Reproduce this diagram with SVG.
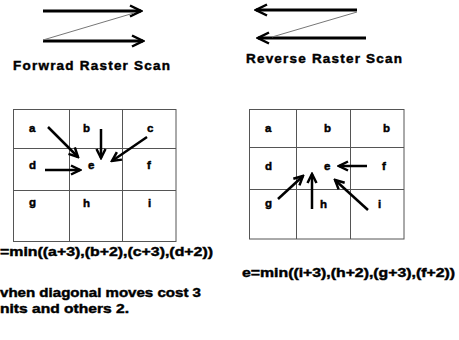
<svg xmlns="http://www.w3.org/2000/svg" width="459" height="340" viewBox="0 0 459 340">
<style>
text{font-family:"Liberation Sans",Arial,sans-serif;font-weight:bold;fill:#000;stroke:#000;stroke-width:0.45}
.t{font-size:13.5px}
.l{font-size:11.5px}
.f{font-size:13px}
.g{fill:none;stroke:#555;stroke-width:1}
.a{stroke:#000;stroke-width:2.5;fill:none}
.big{stroke:#000;stroke-width:3;fill:none}
.thin{stroke:#777;stroke-width:1;fill:none}
</style>
<defs>
<marker id="hb" viewBox="0 0 14 14" refX="12" refY="7" markerWidth="14" markerHeight="14" markerUnits="userSpaceOnUse" orient="auto">
<path d="M1,1.5 L12,7 L1,12.5" fill="none" stroke="#000" stroke-width="2.5"/>
</marker>
<marker id="hs" viewBox="0 0 12 12" refX="10" refY="6" markerWidth="12" markerHeight="12" markerUnits="userSpaceOnUse" orient="auto">
<path d="M1,1.5 L10,6 L1,10.5" fill="none" stroke="#000" stroke-width="2.5"/>
</marker>
</defs>
<rect width="459" height="340" fill="#fff"/>

<g id="forward-scan">
<line class="big" x1="43" y1="11" x2="141" y2="11" marker-end="url(#hb)"/>
<line class="big" x1="43" y1="41" x2="143" y2="41" marker-end="url(#hb)"/>
<line class="thin" x1="43" y1="40" x2="134" y2="13"/>
<text class="t" x="13" y="70" textLength="157" lengthAdjust="spacing">Forwrad Raster Scan</text>
</g>

<g id="reverse-scan">
<line class="big" x1="357" y1="10" x2="256" y2="10" marker-end="url(#hb)"/>
<line class="big" x1="366" y1="38" x2="258" y2="38" marker-end="url(#hb)"/>
<line class="thin" x1="357" y1="12" x2="272" y2="37"/>
<text class="t" x="246" y="63" textLength="156" lengthAdjust="spacing">Reverse Raster Scan</text>
</g>

<g id="forward-grid">
<rect class="g" x="13.5" y="109.5" width="162.5" height="132"/>
<line class="g" x1="69.5" y1="109.5" x2="69.5" y2="241.5"/>
<line class="g" x1="122.5" y1="109.5" x2="122.5" y2="241.5"/>
<line class="g" x1="13.5" y1="148.5" x2="176" y2="148.5"/>
<line class="g" x1="13.5" y1="190.5" x2="176" y2="190.5"/>
<text class="l" x="29" y="132">a</text>
<text class="l" x="83" y="132">b</text>
<text class="l" x="147" y="132">c</text>
<text class="l" x="29" y="169">d</text>
<text class="l" x="88" y="169">e</text>
<text class="l" x="147" y="169">f</text>
<text class="l" x="29" y="206">g</text>
<text class="l" x="83" y="207">h</text>
<text class="l" x="148" y="207">i</text>
</g>

<g id="reverse-grid">
<rect class="g" x="249.5" y="109.5" width="154.5" height="129.5"/>
<line class="g" x1="296.5" y1="109.5" x2="296.5" y2="239"/>
<line class="g" x1="350.5" y1="109.5" x2="350.5" y2="239"/>
<line class="g" x1="249.5" y1="147.5" x2="404" y2="147.5"/>
<line class="g" x1="249.5" y1="189.5" x2="404" y2="189.5"/>
<text class="l" x="265" y="132">a</text>
<text class="l" x="324" y="132">b</text>
<text class="l" x="383" y="132">b</text>
<text class="l" x="265" y="170">d</text>
<text class="l" x="324" y="170">e</text>
<text class="l" x="382" y="170">f</text>
<text class="l" x="265" y="207">g</text>
<text class="l" x="320" y="208">h</text>
<text class="l" x="378" y="208">i</text>
</g>

<g id="connectors">
<line class="a" x1="48" y1="127" x2="78" y2="157" marker-end="url(#hs)"/>
<line class="a" x1="101" y1="129" x2="101" y2="158" marker-end="url(#hs)"/>
<line class="a" x1="147" y1="137" x2="112" y2="161" marker-end="url(#hs)"/>
<line class="a" x1="45" y1="170" x2="80" y2="170" marker-end="url(#hs)"/>
<line class="a" x1="367" y1="166" x2="339" y2="166" marker-end="url(#hs)"/>
<line class="a" x1="278" y1="199" x2="303" y2="176" marker-end="url(#hs)"/>
<line class="a" x1="312" y1="209" x2="312" y2="174" marker-end="url(#hs)"/>
<line class="a" x1="368" y1="210" x2="335" y2="180" marker-end="url(#hs)"/>
</g>

<g id="formulas">
<text class="f" x="0" y="256" textLength="213" lengthAdjust="spacingAndGlyphs">=min((a+3),(b+2),(c+3),(d+2))</text>
<text class="f" x="0" y="297" textLength="201" lengthAdjust="spacingAndGlyphs">vhen diagonal moves cost 3</text>
<text class="f" x="0" y="313" textLength="129" lengthAdjust="spacingAndGlyphs">nits and others 2.</text>
<text class="f" x="242" y="277" textLength="213" lengthAdjust="spacingAndGlyphs">e=min((i+3),(h+2),(g+3),(f+2))</text>
</g>
</svg>
